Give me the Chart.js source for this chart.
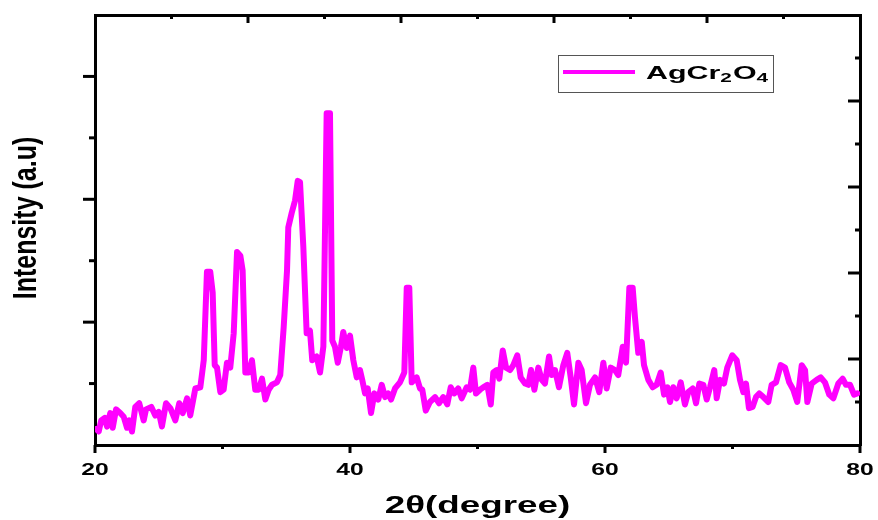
<!DOCTYPE html>
<html>
<head>
<meta charset="utf-8">
<style>
  html, body { margin: 0; padding: 0; background: #fff; }
  #wrap { width: 878px; height: 520px; }
</style>
<script src="https://cdn.jsdelivr.net/npm/chart.js"></script>
</head>
<body>
<div id="wrap"><canvas id="xrdChart" width="878" height="520"></canvas></div>
<script>
// 2theta positions (deg)
const twoTheta = [
    20.10, 20.29, 20.49, 20.76, 20.94, 21.20, 21.39, 21.65, 21.98, 22.25,
    22.51, 22.69, 22.90, 23.16, 23.47, 23.82, 24.00, 24.42, 24.73, 25.00,
    25.25, 25.57, 25.91, 26.30, 26.61, 26.88, 27.22, 27.47, 27.87, 28.26,
    28.53, 28.78, 29.04, 29.23, 29.39, 29.57, 29.83, 30.09, 30.35, 30.61,
    30.88, 31.14, 31.40, 31.58, 31.79, 32.05, 32.31, 32.57, 32.84, 33.10,
    33.36, 33.62, 33.88, 34.27, 34.53, 34.80, 35.06, 35.16, 35.43, 35.69,
    35.90, 36.08, 36.34, 36.60, 36.86, 37.04, 37.39, 37.65, 37.91, 38.17,
    38.43, 38.61, 38.82, 39.04, 39.29, 39.47, 39.74, 40.00, 40.26, 40.53,
    40.78, 40.96, 41.18, 41.39, 41.65, 41.91, 42.22, 42.49, 42.75, 43.00,
    43.22, 43.53, 43.92, 44.26, 44.45, 44.65, 44.84, 45.23, 45.49, 45.67,
    45.94, 46.27, 46.67, 46.98, 47.32, 47.63, 47.90, 48.18, 48.49, 48.76,
    49.15, 49.41, 49.67, 49.88, 50.20, 50.45, 50.77, 51.04, 51.24, 51.51,
    51.71, 51.98, 52.24, 52.55, 52.81, 53.12, 53.39, 53.73, 53.98, 54.20,
    54.46, 54.77, 55.04, 55.29, 55.61, 55.82, 56.08, 56.39, 56.73, 57.04,
    57.31, 57.57, 57.91, 58.17, 58.51, 58.82, 59.22, 59.55, 59.87, 60.13,
    60.45, 60.78, 61.04, 61.39, 61.65, 61.91, 62.17, 62.35, 62.61, 62.88,
    63.06, 63.40, 63.74, 64.05, 64.37, 64.63, 64.89, 65.10, 65.36, 65.62,
    65.94, 66.27, 66.53, 66.88, 67.14, 67.40, 67.71, 67.98, 68.24, 68.57,
    68.76, 69.02, 69.33, 69.59, 69.98, 70.33, 70.59, 70.85, 71.06, 71.29,
    71.58, 71.84, 72.10, 72.42, 72.81, 73.07, 73.41, 73.78, 74.12, 74.45,
    74.77, 75.08, 75.43, 75.69, 75.87, 76.21, 76.60, 76.92, 77.25, 77.59,
    77.91, 78.30, 78.64, 78.90, 79.22, 79.53, 79.79
];

// intensity (a.u.), same order as twoTheta
const intensity = [
    13, 11, 20, 22, 15, 26, 14, 29, 26, 23,
    14, 20, 11, 31, 34, 20, 29, 31, 24, 27,
    15, 34, 30, 20, 34, 26, 38, 24, 46, 47,
    69, 141, 141, 124, 65, 63, 43, 45, 67, 63,
    91, 157, 154, 142, 59, 59, 69, 45, 45, 54,
    37, 45, 49, 51, 57, 96, 142, 177, 189, 199,
    215, 214, 161, 91, 93, 69, 72, 59, 80, 270,
    270, 85, 80, 67, 80, 92, 79, 89, 69, 55,
    61, 53, 42, 46, 26, 42, 37, 49, 39, 42,
    37, 46, 51, 59, 128, 128, 51, 55, 46, 45,
    28, 35, 39, 34, 39, 33, 47, 42, 46, 38,
    47, 45, 63, 42, 45, 47, 49, 33, 59, 61,
    54, 77, 63, 61, 65, 73, 55, 50, 49, 61,
    45, 63, 53, 50, 72, 57, 61, 47, 65, 75,
    55, 33, 67, 61, 34, 49, 55, 43, 67, 46,
    63, 61, 57, 80, 67, 128, 128, 104, 75, 84,
    65, 53, 47, 49, 59, 41, 47, 35, 47, 38,
    51, 33, 43, 46, 34, 50, 49, 37, 47, 61,
    38, 53, 50, 63, 73, 69, 53, 43, 50, 30,
    31, 39, 42, 39, 35, 49, 51, 65, 63, 51,
    45, 35, 65, 61, 35, 50, 53, 55, 51, 41,
    38, 50, 54, 49, 49, 41, 42
];

// tick positions / labels
const xTicks = [20, 30, 40, 50, 60, 70, 80];
const xTickLabels = [20, 40, 60, 80];
const yTicks = [50, 100, 150, 200, 250, 300];
const topTicks = [1, 2, 3, 4, 5, 6, 7, 8, 9];
const rightTicks = [1, 2, 3, 4, 5, 6, 7, 8, 9];

const seriesName = ['AgCr', '2', 'O', '4'];
const lineColor = '#ff00ff';
const FONT = '"Liberation Sans", Arial, sans-serif';

// text is wide in the original, so stretch it horizontally
function stretchedText(ctx, text, x, y, size, sx, align) {
    ctx.save();
    ctx.translate(x, y);
    ctx.scale(sx, 1);
    ctx.font = `bold ${size}px ${FONT}`;
    ctx.textAlign = align || 'center';
    ctx.textBaseline = 'alphabetic';
    ctx.fillStyle = '#000';
    ctx.fillText(text, 0, 0);
    ctx.restore();
}

const decorPlugin = {
    id: 'decor',
    afterDraw(chart) {
        const ctx = chart.ctx;
        const { left, right, top, bottom } = chart.chartArea;
        const xs = chart.scales.x;
        const ys = chart.scales.y;
        const ts = chart.scales.x2;
        const rs = chart.scales.y2;

        ctx.save();
        ctx.strokeStyle = '#000';
        ctx.lineWidth = 3;
        const mark = (x1, y1, x2, y2) => {
            ctx.beginPath();
            ctx.moveTo(x1, y1);
            ctx.lineTo(x2, y2);
            ctx.stroke();
        };

        // bottom: outward
        xTicks.forEach(v => {
            const x = xs.getPixelForValue(v);
            mark(x, bottom, x, bottom + (v % 20 === 0 ? 8 : 4));
        });
        // left: outward
        yTicks.forEach(v => {
            const y = ys.getPixelForValue(v);
            mark(left - (v % 100 === 0 ? 12 : 6), y, left, y);
        });
        // top: inward
        topTicks.forEach(v => {
            const x = ts.getPixelForValue(v);
            mark(x, top, x, top + (v % 2 === 0 ? 8 : 4));
        });
        // right: inward
        rightTicks.forEach(v => {
            const y = rs.getPixelForValue(v);
            mark(right - (v % 2 === 0 ? 12 : 5), y, right, y);
        });
        ctx.restore();

        // tick labels
        xTickLabels.forEach(v => {
            stretchedText(ctx, String(v), xs.getPixelForValue(v), 475, 17, 1.45);
        });

        // axis titles
        stretchedText(ctx, '2\u03b8(degree)', (left + right) / 2, 513, 23, 1.6);

        ctx.save();
        ctx.translate(36, 218);
        ctx.rotate(-Math.PI / 2);
        ctx.scale(1, 1.3);
        ctx.font = `bold 25px ${FONT}`;
        ctx.textAlign = 'center';
        ctx.textBaseline = 'alphabetic';
        ctx.fillStyle = '#000';
        ctx.fillText('Intensity (a.u)', 0, 0);
        ctx.restore();

        // legend box
        ctx.save();
        ctx.strokeStyle = '#555';
        ctx.lineWidth = 1;
        ctx.strokeRect(558.5, 55.5, 215, 37);
        ctx.strokeStyle = lineColor;
        ctx.lineWidth = 4;
        mark(563, 72, 635, 72);
        ctx.restore();

        // legend text with subscripts
        const sx = 1.6;
        let tx = 646;
        seriesName.forEach((part, i) => {
            const sub = i % 2 === 1;
            const size = sub ? 13 : 19;
            const base = sub ? 82 : 79;
            ctx.save();
            ctx.font = `bold ${size}px ${FONT}`;
            const w = ctx.measureText(part).width * sx;
            ctx.restore();
            stretchedText(ctx, part, tx, base, size, sx, 'left');
            tx += w + (sub ? 1 : 0);
        });
    }
};

const points = twoTheta.map((t, i) => ({ x: t, y: intensity[i] }));

const plainAxis = {
    ticks: { display: false },
    grid: { display: false },
    border: { display: true, color: '#000', width: 3 }
};

new Chart(document.getElementById('xrdChart'), {
    type: 'line',
    data: {
        datasets: [{
            label: 'AgCr2O4',
            data: points,
            borderColor: lineColor,
            borderWidth: 6,
            pointRadius: 0,
            tension: 0,
            borderJoinStyle: 'round',
            borderCapStyle: 'round',
            fill: false
        }]
    },
    options: {
        responsive: false,
        animation: false,
        devicePixelRatio: 1,
        layout: { padding: 0 },
        plugins: {
            legend: { display: false },
            tooltip: { enabled: false }
        },
        scales: {
            x: {
                ...plainAxis,
                type: 'linear', axis: 'x', position: 'bottom', min: 20, max: 80,
                afterFit: s => { s.height = 75; }
            },
            y: {
                ...plainAxis,
                type: 'linear', axis: 'y', position: 'left', min: 0, max: 350,
                afterFit: s => { s.width = 95; }
            },
            x2: {
                ...plainAxis,
                type: 'linear', axis: 'x', position: 'top', min: 0, max: 10,
                afterFit: s => { s.height = 15; }
            },
            y2: {
                ...plainAxis,
                type: 'linear', axis: 'y', position: 'right', min: 0, max: 10,
                afterFit: s => { s.width = 18; }
            }
        }
    },
    plugins: [decorPlugin]
});
</script>
</body>
</html>
